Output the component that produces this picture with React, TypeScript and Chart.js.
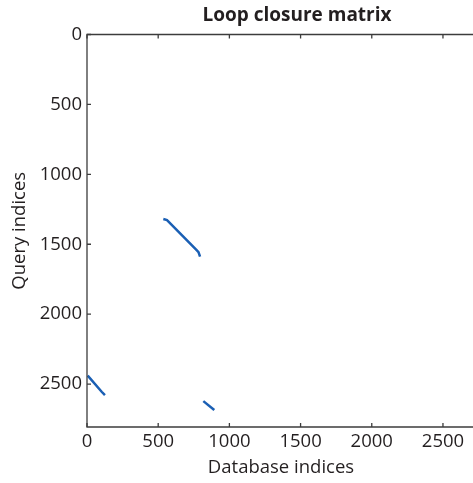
import React, { useEffect, useRef } from "react";
import { Chart, registerables } from "chart.js";

Chart.register(...registerables);

const titleText = "Loop closure matrix";
const xLabel = "Database indices";
const yLabel = "Query indices";

const xTicks = [0, 500, 1000, 1500, 2000, 2500];
const yTicks = [0, 500, 1000, 1500, 2000, 2500];
const xMax = 2725;
const yMax = 2807;

// loop-closure segments (database index, query index)
const segAx = [536, 562, 770, 783, 794];
const segAy = [1320, 1327, 1542, 1556, 1589];
const segBx = [5, 103, 126];
const segBy = [2440, 2555, 2579];
const segCx = [817, 894];
const segCy = [2622, 2686];

const lineColor = "#1a5fb4";
const textColor = "#231f20";
const axisColor = "#3c3c3c";
const fontFamily = '"Open Sans", sans-serif';

function mk(xs: number[], ys: number[]) {
  return {
    data: xs.map((x, i) => ({ x, y: ys[i] })),
    showLine: true,
    borderColor: lineColor,
    backgroundColor: lineColor,
    borderWidth: 2.5,
    pointRadius: 0,
    pointHoverRadius: 0,
    tension: 0,
  };
}

const axesPlugin = {
  id: "axesBox",
  afterDraw(chart: any) {
    const { ctx, chartArea: a, scales } = chart;
    ctx.save();
    ctx.strokeStyle = axisColor;
    ctx.lineWidth = 1.3;
    ctx.beginPath();
    ctx.moveTo(a.right, a.top);
    ctx.lineTo(a.left, a.top);
    ctx.lineTo(a.left, a.bottom);
    ctx.lineTo(a.right, a.bottom);
    ctx.stroke();
    ctx.beginPath();
    for (const v of xTicks) {
      const px = scales.x.getPixelForValue(v);
      ctx.moveTo(px, a.top);
      ctx.lineTo(px, a.top + 4);
      ctx.moveTo(px, a.bottom);
      ctx.lineTo(px, a.bottom - 4);
    }
    for (const v of yTicks) {
      const py = scales.y.getPixelForValue(v);
      ctx.moveTo(a.left, py);
      ctx.lineTo(a.left + 4, py);
    }
    ctx.stroke();
    ctx.fillStyle = textColor;
    ctx.font = `bold 19px ${fontFamily}`;
    ctx.textAlign = "center";
    ctx.textBaseline = "middle";
    ctx.fillText(titleText, (a.left + a.right) / 2 + 16, 16);
    ctx.restore();
  },
};

export default function App() {
  const ref = useRef<HTMLCanvasElement>(null);
  useEffect(() => {
    Chart.defaults.font.family = fontFamily;
    const chart = new Chart(ref.current as HTMLCanvasElement, {
      type: "scatter",
      data: { datasets: [mk(segAx, segAy), mk(segBx, segBy), mk(segCx, segCy)] as any },
      options: {
        responsive: false,
        animation: false,
        devicePixelRatio: 1,
        layout: { padding: { top: 34.5, right: 45, left: 0, bottom: 0 } },
        plugins: { legend: { display: false }, tooltip: { enabled: false }, title: { display: false } },
        scales: {
          x: {
            type: "linear",
            position: "bottom",
            min: 0,
            max: xMax,
            grid: { display: false, drawTicks: false },
            border: { display: false },
            ticks: {
              font: { size: 18.5 },
              color: textColor,
              padding: 4,
              maxRotation: 0,
              autoSkip: false,
              callback: (v: any) => String(v),
            },
            afterBuildTicks: (s: any) => {
              s.ticks = xTicks.map((v) => ({ value: v }));
            },
            afterFit: (s: any) => {
              s.height = 56;
            },
            title: {
              display: true,
              text: xLabel,
              color: textColor,
              font: { size: 18.5 },
              padding: { top: 0, bottom: 4 },
            },
          },
          y: {
            type: "linear",
            reverse: true,
            min: 0,
            max: yMax,
            grid: { display: false, drawTicks: false },
            border: { display: false },
            ticks: {
              font: { size: 18.5 },
              color: textColor,
              padding: 5,
              autoSkip: false,
              callback: (v: any) => String(v),
            },
            afterBuildTicks: (s: any) => {
              s.ticks = yTicks.map((v) => ({ value: v }));
            },
            afterFit: (s: any) => {
              s.width = 87;
            },
            title: {
              display: true,
              text: yLabel,
              color: textColor,
              font: { size: 18.5 },
              padding: { top: 9, bottom: 0 },
            },
          },
        },
      },
      plugins: [axesPlugin],
    });
    return () => chart.destroy();
  }, []);
  return (
    <div
      style={{
        position: "fixed",
        left: 0,
        top: 0,
        width: 473,
        height: 483,
        overflow: "hidden",
        background: "#fff",
      }}
    >
      <canvas ref={ref} width={520} height={483} style={{ display: "block" }} />
    </div>
  );
}
